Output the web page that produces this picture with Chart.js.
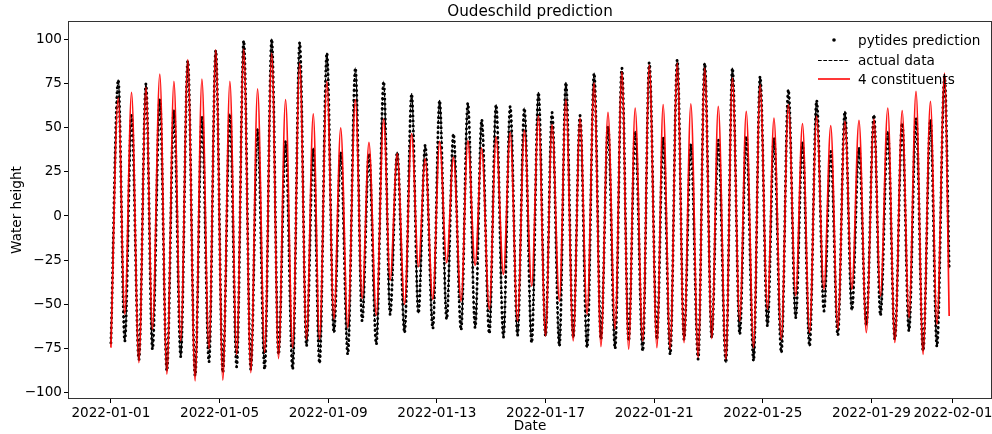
<!DOCTYPE html>
<html>
<head>
<meta charset="utf-8">
<title>Oudeschild prediction</title>
<script src="https://cdn.jsdelivr.net/npm/chart.js@4/dist/chart.umd.min.js"></script>
<style>
  html, body { margin: 0; padding: 0; background: #fff; }
  #wrap { width: 992px; height: 434px; }
</style>
</head>
<body>
<div id="wrap"><canvas id="tideChart" width="992" height="434"></canvas></div>
<script>
// Turning points (high / low water) in days after 2022-01-01 00:00
const turnDays = [
  0.00, 0.27, 0.51, 0.76, 1.03, 1.29, 1.53, 1.80, 2.06, 2.32, 2.57, 2.83, 3.10, 3.35, 3.61,
  3.86, 4.12, 4.38, 4.63, 4.89, 5.15, 5.40, 5.66, 5.92, 6.17, 6.43, 6.69, 6.95, 7.20, 7.45,
  7.68, 7.95, 8.21, 8.46, 8.72, 9.00, 9.25, 9.50, 9.77, 10.04, 10.28, 10.54, 10.81, 11.07, 11.32,
  11.57, 11.85, 12.10, 12.36, 12.61, 12.89, 13.14, 13.41, 13.65, 13.93, 14.18, 14.45, 14.70, 14.97, 15.22,
  15.49, 15.74, 16.00, 16.24, 16.51, 16.75, 17.02, 17.27, 17.53, 17.79, 18.04, 18.30, 18.56, 18.81, 19.06,
  19.30, 19.58, 19.82, 20.10, 20.33, 20.59, 20.85, 21.10, 21.35, 21.62, 21.86, 22.12, 22.36, 22.64, 22.88,
  23.15, 23.39, 23.66, 23.90, 24.17, 24.41, 24.68, 24.94, 25.21, 25.46, 25.72, 25.98, 26.25, 26.50, 26.76,
  27.02, 27.28, 27.54, 27.81, 28.09, 28.33, 28.60, 28.86, 29.13, 29.38, 29.64, 29.90, 30.17, 30.41, 30.69,
  30.86
];

// Measured water height at the Oudeschild gauge
const gaugeLevels = [
  -71.9, 77.3, -71.0, 57.0, -81.5, 75.0, -75.6, 66.0, -87.9, 60.3, -79.8, 88.0, -90.7, 56.0, -82.8,
  94.0, -88.8, 58.0, -85.6, 99.6, -87.0, 49.4, -87.0, 100.4, -78.5, 42.4, -87.0, 98.5, -73.7, 38.6,
  -83.6, 92.5, -66.2, 36.2, -78.5, 84.0, -59.6, 35.4, -72.8, 76.4, -55.8, 36.2, -66.2, 69.4, -55.2,
  40.1, -63.9, 65.6, -58.6, 46.7, -64.7, 64.1, -63.4, 54.7, -66.7, 63.2, -68.7, 62.2, -67.7, 61.3,
  -71.9, 70.2, -68.0, 58.8, -73.8, 75.8, -69.0, 57.0, -74.7, 81.1, -70.0, 50.9, -75.2, 84.0, -70.9,
  48.0, -76.6, 87.2, -70.0, 44.3, -78.5, 88.7, -70.0, 40.5, -81.3, 86.8, -69.0, 43.3, -83.2, 84.0,
  -67.1, 45.2, -82.2, 79.2, -62.4, 44.3, -77.5, 71.7, -57.7, 41.5, -73.8, 65.6, -53.9, 36.7, -67.7,
  59.4, -53.4, 38.6, -62.0, 57.5, -56.4, 48.0, -70.0, 52.8, -65.3, 55.6, -76.6, 54.7, -74.1, 79.0,
  -29.3
];

// The pytides prediction runs on top of the gauge record
const pytidesLevels = gaugeLevels;

// Prediction from the four main constituents only
const constituentLevels = [
  -74.7, 67.0, -55.8, 70.2, -83.2, 73.0, -64.3, 80.5, -89.8, 76.4, -70.9, 88.7, -93.6, 77.7, -75.6,
  94.3, -93.2, 76.4, -78.5, 94.7, -88.9, 72.1, -77.5, 92.5, -80.9, 66.0, -74.7, 86.8, -70.0, 58.0,
  -70.0, 76.4, -58.6, 50.0, -63.4, 66.0, -46.9, 41.8, -56.4, 55.0, -36.4, 35.4, -50.1, 46.7, -28.8,
  32.4, -47.3, 42.4, -26.5, 33.3, -48.3, 42.8, -28.0, 38.6, -53.0, 44.9, -33.1, 47.5, -59.6, 48.6,
  -39.8, 56.9, -68.1, 51.8, -48.3, 66.0, -70.9, 55.6, -55.8, 75.5, -74.1, 58.8, -64.3, 82.0, -75.6,
  61.3, -70.9, 85.8, -74.7, 63.2, -75.6, 86.8, -71.9, 63.7, -80.3, 84.0, -69.6, 62.2, -81.3, 78.3,
  -59.6, 59.4, -74.7, 74.5, -53.0, 55.6, -70.0, 63.2, -45.4, 52.4, -66.2, 56.6, -41.6, 51.3, -64.3,
  53.7, -41.6, 54.3, -66.2, 55.0, -45.4, 61.3, -71.8, 59.8, -57.7, 70.7, -78.5, 65.0, -61.5, 81.1,
  -56.8
];

// Axis ticks
const dateTickDays = [0, 4, 8, 12, 16, 20, 24, 28, 31];
const dateTickLabels = ['2022-01-01', '2022-01-05', '2022-01-09', '2022-01-13', '2022-01-17',
                        '2022-01-21', '2022-01-25', '2022-01-29', '2022-02-01'];
const heightTicks = [-100, -75, -50, -25, 0, 25, 50, 75, 100];

const seriesNames = ['pytides prediction', 'actual data', '4 constituents'];
const chartTitle = 'Oudeschild prediction';

const FONT = 'DejaVu Sans';
const toPoints = (levels) => turnDays.map((d, i) => ({ x: d, y: levels[i] }));

// Frame, title and legend drawn on the canvas
const decorations = {
  id: 'decorations',
  afterDraw(chart) {
    const { ctx, chartArea: a } = chart;
    ctx.save();
    ctx.strokeStyle = '#333';
    ctx.lineWidth = 1;
    ctx.strokeRect(Math.round(a.left) - 0.5, Math.round(a.top) - 0.5,
                   Math.round(a.right - a.left) + 1, Math.round(a.bottom - a.top) + 1);

    ctx.fillStyle = '#000';
    ctx.font = '15.2px "' + FONT + '"';
    ctx.textAlign = 'center';
    ctx.textBaseline = 'middle';
    ctx.fillText(chartTitle, (a.left + a.right) / 2, 12);

    const ds = chart.data.datasets;
    const rowY = [40, 60, 79];
    const x0 = 818, x1 = 850, tx = 858;
    ctx.font = '13.6px "' + FONT + '"';
    ctx.textAlign = 'left';
    // dot marker
    ctx.beginPath();
    ctx.arc((x0 + x1) / 2, rowY[0], 1.8, 0, Math.PI * 2);
    ctx.fillStyle = ds[0].borderColor;
    ctx.fill();
    // dashed sample
    ctx.beginPath();
    ctx.setLineDash(ds[1].borderDash);
    ctx.strokeStyle = ds[1].borderColor;
    ctx.lineWidth = ds[1].borderWidth;
    ctx.moveTo(x0, rowY[1] + 0.5); ctx.lineTo(x1, rowY[1] + 0.5);
    ctx.stroke();
    // solid sample
    ctx.beginPath();
    ctx.setLineDash([]);
    ctx.strokeStyle = ds[2].borderColor;
    ctx.lineWidth = ds[2].borderWidth;
    ctx.moveTo(x0, rowY[2]); ctx.lineTo(x1, rowY[2]);
    ctx.stroke();

    ctx.fillStyle = '#000';
    ds.forEach((d, i) => ctx.fillText(d.label, tx, rowY[i] + 1));
    ctx.restore();
  }
};

new Chart(document.getElementById('tideChart'), {
  type: 'line',
  data: {
    datasets: [
      {
        label: seriesNames[0],
        data: toPoints(pytidesLevels),
        borderColor: '#000',
        borderWidth: 3,
        borderDash: [0, 5],
        borderCapStyle: 'round',
        pointRadius: 0,
        cubicInterpolationMode: 'monotone',
        order: 2
      },
      {
        label: seriesNames[1],
        data: toPoints(gaugeLevels),
        borderColor: '#000',
        borderWidth: 1.2,
        borderDash: [3.7, 1.6],
        pointRadius: 0,
        cubicInterpolationMode: 'monotone',
        order: 1
      },
      {
        label: seriesNames[2],
        data: toPoints(constituentLevels),
        borderColor: 'rgba(255,0,0,0.92)',
        borderWidth: 1.7,
        pointRadius: 0,
        cubicInterpolationMode: 'monotone',
        order: 0
      }
    ]
  },
  options: {
    responsive: false,
    animation: false,
    devicePixelRatio: 1,
    layout: { padding: { top: 22, right: 1, left: 0, bottom: 0 } },
    plugins: {
      legend: { display: false },
      title: { display: false },
      tooltip: { enabled: false }
    },
    scales: {
      x: {
        type: 'linear',
        min: -1.543,
        max: 32.40,
        afterBuildTicks: (scale) => { scale.ticks = dateTickDays.map(v => ({ value: v })); },
        afterFit: (scale) => { scale.height = 36; scale.paddingLeft = 0; scale.paddingRight = 0; },
        ticks: {
          autoSkip: false,
          maxRotation: 0,
          padding: 2,
          color: '#000',
          font: { family: FONT, size: 13.6 },
          callback: (v) => dateTickLabels[dateTickDays.indexOf(v)]
        },
        grid: { drawOnChartArea: false, drawTicks: true, tickLength: 5, tickColor: '#000' },
        border: { display: false },
        title: {
          display: true,
          text: 'Date',
          color: '#000',
          font: { family: FONT, size: 13.6 },
          padding: { top: 0, bottom: -1 }
        }
      },
      y: {
        type: 'linear',
        min: -103.3,
        max: 110.1,
        afterBuildTicks: (scale) => { scale.ticks = heightTicks.map(v => ({ value: v })); },
        afterFit: (scale) => { scale.width = 69; scale.paddingTop = 0; scale.paddingBottom = 0; },
        ticks: {
          padding: 2,
          color: '#000',
          font: { family: FONT, size: 13.6 },
          callback: (v) => (v < 0 ? '\u2212' + Math.abs(v) : String(v))
        },
        grid: { drawOnChartArea: false, drawTicks: true, tickLength: 5, tickColor: '#000' },
        border: { display: false },
        title: {
          display: true,
          text: 'Water height',
          color: '#000',
          font: { family: FONT, size: 13.6 },
          padding: { top: 9, bottom: 0 }
        }
      }
    }
  },
  plugins: [decorations]
});
</script>
</body>
</html>
